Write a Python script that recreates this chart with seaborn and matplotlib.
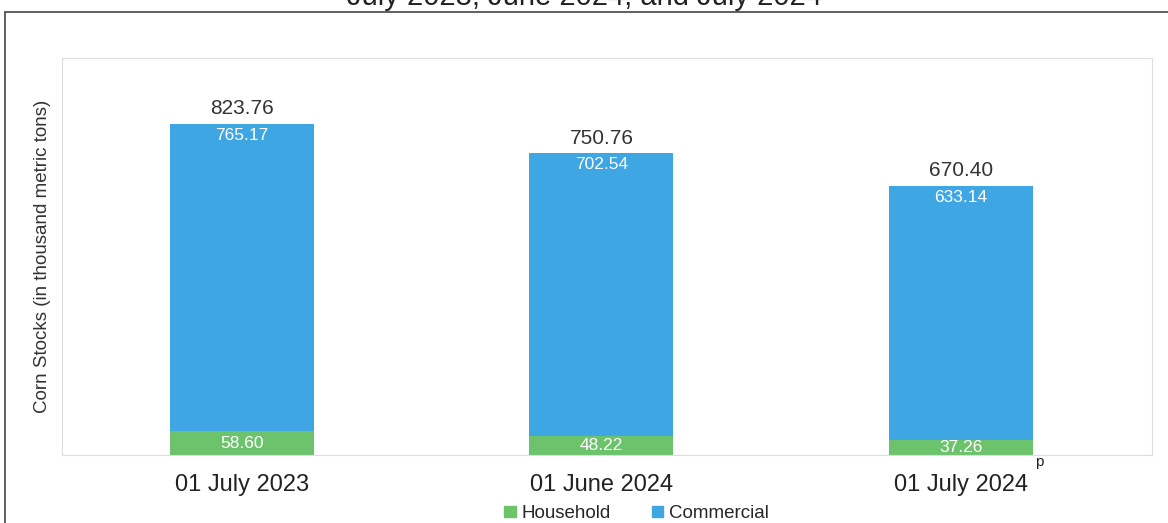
import matplotlib
matplotlib.use("Agg")
import matplotlib.pyplot as plt
from matplotlib.patches import Rectangle, Patch
import seaborn as sns
import pandas as pd

# Data
dates = ["01 July 2023", "01 June 2024", "01 July 2024"]
household = [58.60, 48.22, 37.26]
commercial = [765.17, 702.54, 633.14]
totals = [823.76, 750.76, 670.40]

BLUE = "#3FA6E4"
GREEN = "#6CC36C"

sns.set_style("white")
plt.rcParams["font.family"] = ["Liberation Sans", "DejaVu Sans"]

df = pd.DataFrame({"date": dates, "household": household,
                   "commercial": commercial, "total": totals})

fig = plt.figure(figsize=(11.68, 5.23), dpi=100)
ax = fig.add_axes([0.053, 0.130, 0.933, 0.759])

# stacked bars: full height in blue, household drawn over it in green
sns.barplot(data=df, x="date", y="total", color=BLUE, width=0.40,
            saturation=1, linewidth=0, ax=ax)
sns.barplot(data=df, x="date", y="household", color=GREEN, width=0.40,
            saturation=1, linewidth=0, ax=ax)

ax.set_ylim(0, 988)
ax.set_xlim(-0.5, 2.53)
ax.set_yticks([])
ax.set_xlabel("")
ax.set_ylabel("Corn Stocks (in thousand metric tons)", fontsize=13.5,
              color="#333333", labelpad=8)
ax.tick_params(axis="x", length=0, labelsize=17, colors="#222222", pad=14)
for s in ax.spines.values():
    s.set_color("#dddddd")
    s.set_linewidth(0.8)

for i in range(len(dates)):
    ax.text(i, totals[i] + 14, f"{totals[i]:.2f}", ha="center", va="bottom",
            fontsize=15, color="#333333")
    ax.text(i, totals[i] - 10, f"{commercial[i]:.2f}", ha="center", va="top",
            fontsize=12.5, color="white")
    ax.text(i, household[i] / 2, f"{household[i]:.2f}", ha="center",
            va="center", fontsize=12.5, color="white")

# preliminary marker on last date
ax.annotate("p", xy=(2, 0), xycoords=("data", "axes fraction"),
            xytext=(53, -5), textcoords="offset points", fontsize=11,
            color="#222222", ha="left", va="center")

handles = [Patch(color=GREEN, label="Household"),
           Patch(color=BLUE, label="Commercial")]
fig.legend(handles=handles, loc="center", bbox_to_anchor=(0.545, 0.018),
           ncol=2, frameon=False, fontsize=13.5, handlelength=0.6,
           handleheight=0.6, columnspacing=2.2, handletextpad=0.3)

# outer frame of the figure box
fig.patches.append(Rectangle((0.004, -0.05), 1.2, 1.027, transform=fig.transFigure,
                             fill=False, edgecolor="#444444", linewidth=1.2))

# title, cut off at the top in the source
fig.text(0.5, 1.005, "July 2023, June 2024, and July 2024", ha="center",
         va="center", fontsize=21, color="#222222")

fig.savefig("out.png", dpi=100)
